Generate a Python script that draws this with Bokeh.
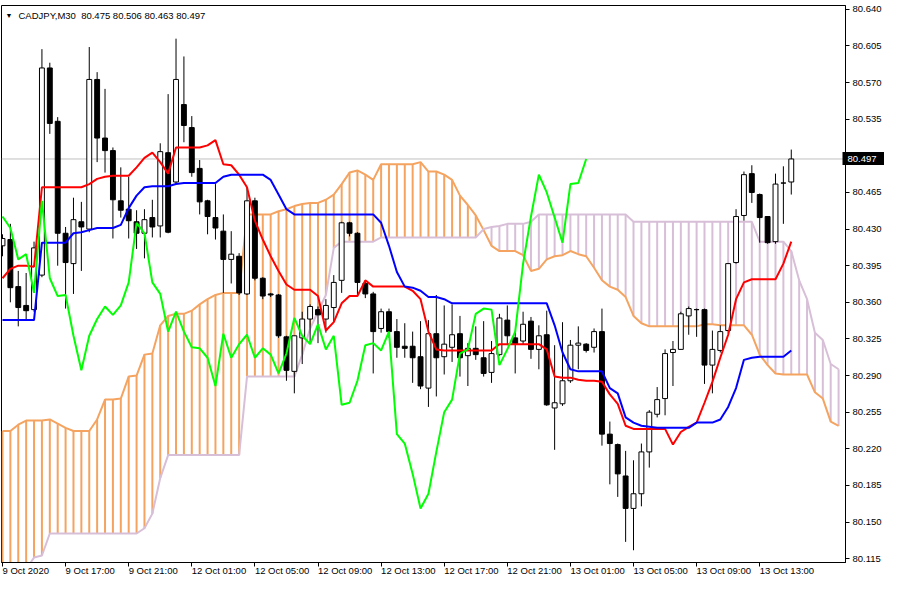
from bokeh.plotting import figure
from bokeh.models import (FixedTicker, Range1d, Span, Label, ColumnDataSource,
                          PrintfTickFormatter, LinearAxis)
from bokeh.embed import file_html
from bokeh.resources import INLINE

symbol = "CADJPY,M30"

opens = [80.414, 80.420, 80.375, 80.357, 80.353, 80.386, 80.584, 80.533, 80.426, 80.397,
         80.437, 80.430, 80.573, 80.517, 80.505, 80.457, 80.449, 80.437, 80.426, 80.441,
         80.433, 80.503, 80.475, 80.549, 80.527, 80.488, 80.457, 80.441, 80.428, 80.401,
         80.404, 80.368, 80.457, 80.383, 80.368, 80.367, 80.327, 80.294, 80.326, 80.344,
         80.353, 80.344, 80.355, 80.381, 80.436, 80.426, 80.378, 80.368, 80.335, 80.351,
         80.332, 80.318, 80.318, 80.308, 80.278, 80.330, 80.308, 80.317, 80.330, 80.309,
         80.316, 80.307, 80.293, 80.310, 80.343, 80.326, 80.323, 80.342, 80.315, 80.329,
         80.259, 80.263, 80.285, 80.319, 80.320, 80.317, 80.332, 80.234, 80.224, 80.194,
         80.163, 80.177, 80.217, 80.253, 80.268, 80.312, 80.315, 80.347, 80.353, 80.353,
         80.300, 80.314, 80.333, 80.398, 80.443, 80.483, 80.463, 80.442, 80.418, 80.474,
         80.475]
highs = [80.425, 80.435, 80.390, 80.388, 80.418, 80.602, 80.589, 80.537, 80.432, 80.460,
         80.456, 80.604, 80.580, 80.564, 80.508, 80.489, 80.480, 80.448, 80.449, 80.458,
         80.512, 80.559, 80.612, 80.595, 80.538, 80.496, 80.458, 80.473, 80.444, 80.428,
         80.407, 80.470, 80.460, 80.384, 80.369, 80.368, 80.328, 80.328, 80.351, 80.358,
         80.356, 80.363, 80.386, 80.437, 80.437, 80.427, 80.381, 80.370, 80.354, 80.354,
         80.344, 80.340, 80.332, 80.342, 80.343, 80.367, 80.357, 80.358, 80.347, 80.321,
         80.337, 80.342, 80.323, 80.349, 80.357, 80.332, 80.351, 80.346, 80.338, 80.352,
         80.319, 80.341, 80.324, 80.337, 80.321, 80.335, 80.354, 80.246, 80.225, 80.218,
         80.209, 80.225, 80.257, 80.279, 80.315, 80.323, 80.351, 80.356, 80.354, 80.354,
         80.333, 80.338, 80.397, 80.449, 80.485, 80.491, 80.464, 80.442, 80.483, 80.490,
         80.506]
lows = [80.404, 80.360, 80.337, 80.344, 80.351, 80.384, 80.521, 80.395, 80.354, 80.368,
        80.390, 80.427, 80.494, 80.484, 80.421, 80.441, 80.421, 80.411, 80.402, 80.422,
        80.422, 80.426, 80.473, 80.513, 80.480, 80.444, 80.425, 80.420, 80.369, 80.378,
        80.367, 80.367, 80.381, 80.363, 80.365, 80.326, 80.285, 80.273, 80.301, 80.321,
        80.321, 80.331, 80.342, 80.369, 80.423, 80.366, 80.364, 80.292, 80.331, 80.326,
        80.307, 80.307, 80.283, 80.277, 80.260, 80.270, 80.291, 80.303, 80.289, 80.280,
        80.305, 80.289, 80.283, 80.309, 80.319, 80.292, 80.320, 80.306, 80.296, 80.261,
        80.219, 80.261, 80.283, 80.296, 80.312, 80.312, 80.223, 80.186, 80.174, 80.131,
        80.123, 80.165, 80.202, 80.250, 80.252, 80.280, 80.315, 80.329, 80.327, 80.282,
        80.273, 80.312, 80.331, 80.397, 80.438, 80.455, 80.417, 80.416, 80.416, 80.435,
        80.463]
closes = [80.421, 80.374, 80.355, 80.352, 80.412, 80.584, 80.531, 80.426, 80.398, 80.439,
          80.432, 80.573, 80.517, 80.505, 80.458, 80.448, 80.438, 80.426, 80.439, 80.432,
          80.504, 80.427, 80.573, 80.529, 80.484, 80.456, 80.442, 80.431, 80.401, 80.406,
          80.369, 80.457, 80.383, 80.366, 80.367, 80.328, 80.295, 80.328, 80.344, 80.356,
          80.348, 80.357, 80.379, 80.436, 80.426, 80.379, 80.368, 80.332, 80.351, 80.332,
          80.317, 80.316, 80.307, 80.280, 80.330, 80.307, 80.320, 80.329, 80.307, 80.316,
          80.310, 80.292, 80.311, 80.345, 80.328, 80.320, 80.339, 80.315, 80.328, 80.262,
          80.264, 80.285, 80.319, 80.321, 80.314, 80.332, 80.234, 80.225, 80.196, 80.163,
          80.177, 80.217, 80.255, 80.267, 80.311, 80.315, 80.349, 80.354, 80.353, 80.300,
          80.315, 80.332, 80.397, 80.442, 80.482, 80.465, 80.441, 80.417, 80.473, 80.474,
          80.497]

tenkan = [80.383, 80.392, 80.395, 80.395, 80.394, 80.470, 80.470, 80.470, 80.470, 80.470,
          80.470, 80.473, 80.478, 80.480, 80.481, 80.481, 80.481, 80.489, 80.498, 80.503,
          80.494, 80.483, 80.508, 80.508, 80.508, 80.508, 80.510, 80.515, 80.492, 80.491,
          80.482, 80.470, 80.438, 80.420, 80.404, 80.390, 80.377, 80.372, 80.372, 80.372,
          80.366, 80.333, 80.341, 80.359, 80.366, 80.366, 80.381, 80.375, 80.375, 80.375,
          80.375, 80.375, 80.371, 80.363, 80.332, 80.315, 80.314, 80.314, 80.314, 80.314,
          80.314, 80.314, 80.314, 80.320, 80.320, 80.320, 80.320, 80.320, 80.320, 80.315,
          80.289, 80.288, 80.288, 80.286, 80.285, 80.285, 80.284, 80.272, 80.263, 80.242,
          80.239, 80.239, 80.239, 80.239, 80.239, 80.224, 80.236, 80.241, 80.245, 80.264,
          80.284, 80.307, 80.329, 80.363, 80.379, 80.382, 80.382, 80.382, 80.382, 80.397,
          80.418]
kijun = [80.343, 80.343, 80.343, 80.343, 80.343, 80.417, 80.417, 80.417, 80.417, 80.426,
         80.427, 80.429, 80.431, 80.431, 80.431, 80.434, 80.450, 80.462, 80.470, 80.471,
         80.471, 80.471, 80.473, 80.474, 80.474, 80.474, 80.474, 80.474, 80.480, 80.482,
         80.482, 80.482, 80.482, 80.482, 80.477, 80.463, 80.449, 80.444, 80.444, 80.444,
         80.444, 80.444, 80.444, 80.444, 80.444, 80.444, 80.444, 80.444, 80.436, 80.414,
         80.389, 80.375, 80.374, 80.371, 80.365, 80.365, 80.363, 80.359, 80.359, 80.359,
         80.359, 80.359, 80.359, 80.359, 80.359, 80.359, 80.359, 80.359, 80.359, 80.359,
         80.338, 80.312, 80.296, 80.294, 80.294, 80.294, 80.294, 80.278, 80.273, 80.250,
         80.245, 80.242, 80.241, 80.240, 80.240, 80.240, 80.240, 80.240, 80.245, 80.245,
         80.245, 80.248, 80.260, 80.278, 80.305, 80.307, 80.308, 80.308, 80.308, 80.308,
         80.314]
span_a = [80.237, 80.237, 80.243, 80.247, 80.247, 80.247, 80.248, 80.244, 80.240, 80.237,
          80.237, 80.237, 80.248, 80.267, 80.267, 80.268, 80.289, 80.290, 80.310, 80.311,
          80.338, 80.347, 80.349, 80.349, 80.352, 80.358, 80.363, 80.367, 80.369, 80.369,
          80.369, 80.444, 80.444, 80.444, 80.444, 80.447, 80.449, 80.452, 80.454, 80.455,
          80.455, 80.458, 80.463, 80.473, 80.484, 80.486, 80.482, 80.477, 80.492, 80.492,
          80.492, 80.492, 80.492, 80.494, 80.485, 80.485, 80.482, 80.477, 80.462, 80.453,
          80.443, 80.429, 80.414, 80.409, 80.409, 80.409, 80.405, 80.390, 80.392, 80.401,
          80.404, 80.405, 80.409, 80.406, 80.404, 80.393, 80.381, 80.375, 80.372, 80.365,
          80.347, 80.340, 80.337, 80.337, 80.337, 80.337, 80.337, 80.337, 80.337, 80.339,
          80.339, 80.338, 80.338, 80.338, 80.338, 80.329, 80.310, 80.300, 80.292, 80.291,
          80.291, 80.291, 80.291, 80.274, 80.268, 80.246, 80.242]
span_b = [80.099, 80.100, 80.102, 80.105, 80.116, 80.118, 80.139, 80.139, 80.139, 80.139,
          80.139, 80.139, 80.139, 80.139, 80.139, 80.139, 80.139, 80.139, 80.144, 80.158,
          80.192, 80.214, 80.214, 80.214, 80.214, 80.214, 80.214, 80.214, 80.214, 80.214,
          80.214, 80.289, 80.289, 80.289, 80.289, 80.289, 80.289, 80.289, 80.310, 80.335,
          80.351, 80.367, 80.412, 80.418, 80.418, 80.418, 80.418, 80.418, 80.422, 80.422,
          80.422, 80.422, 80.422, 80.422, 80.422, 80.422, 80.422, 80.422, 80.422, 80.422,
          80.422, 80.430, 80.432, 80.433, 80.435, 80.435, 80.435, 80.437, 80.444, 80.444,
          80.444, 80.444, 80.444, 80.444, 80.444, 80.444, 80.444, 80.444, 80.444, 80.444,
          80.437, 80.437, 80.437, 80.437, 80.437, 80.437, 80.437, 80.437, 80.437, 80.437,
          80.437, 80.437, 80.437, 80.437, 80.437, 80.437, 80.418, 80.418, 80.418, 80.418,
          80.409, 80.381, 80.363, 80.331, 80.324, 80.301, 80.296]

chikou_shift = 26
date_ticks = [0, 8, 16, 24, 32, 40, 48, 56, 64, 72, 80, 88, 96]
date_labels = ["9 Oct 2020", "9 Oct 17:00", "9 Oct 21:00", "12 Oct 01:00", "12 Oct 05:00",
               "12 Oct 09:00", "12 Oct 13:00", "12 Oct 17:00", "12 Oct 21:00", "13 Oct 01:00",
               "13 Oct 05:00", "13 Oct 09:00", "13 Oct 13:00"]
price_ticks = [80.115, 80.150, 80.185, 80.220, 80.255, 80.290, 80.325, 80.360,
               80.395, 80.430, 80.465, 80.500, 80.535, 80.570, 80.605, 80.640]

FONT = "Liberation Sans"
FS = "9.5px"
X0, X1 = -0.125, 106.875
Y0, Y1 = 80.1113, 80.6437

p = figure(width=884, height=584, x_range=Range1d(X0, X1), y_range=Range1d(Y0, Y1),
           output_backend="svg", toolbar_location=None, y_axis_location="right",
           min_border_left=1, min_border_top=5, min_border_right=0, min_border_bottom=10)
p.grid.visible = False
p.background_fill_color = "white"
p.border_fill_color = "white"
p.outline_line_color = "black"
p.outline_line_width = 1

# time axis: labels start at their tick (tiny negative angle -> left anchored)
p.xaxis.ticker = FixedTicker(ticks=date_ticks)
p.xaxis.major_label_overrides = {t: lab for t, lab in zip(date_ticks, date_labels)}
p.xaxis.major_label_orientation = -1e-6
p.xaxis.major_tick_in = 0
p.xaxis.major_tick_out = 4
p.xaxis.minor_tick_in = 0
p.xaxis.minor_tick_out = 0
p.xaxis.major_label_standoff = 4
p.xaxis.axis_line_color = "black"
p.xaxis.major_tick_line_color = "black"
p.xaxis.major_label_text_font = FONT
p.xaxis.major_label_text_font_size = FS
p.xaxis.major_label_text_color = "black"

# price axis
p.yaxis.ticker = FixedTicker(ticks=price_ticks)
p.yaxis.formatter = PrintfTickFormatter(format="%.3f")
p.yaxis.major_tick_in = 0
p.yaxis.major_tick_out = 4
p.yaxis.minor_tick_in = 0
p.yaxis.minor_tick_out = 0
p.yaxis.major_label_standoff = 3
p.yaxis.axis_line_color = "black"
p.yaxis.major_label_text_font = FONT
p.yaxis.major_label_text_font_size = FS
p.yaxis.major_label_text_color = "black"

# bid price tag: an outer right axis with one tick drawn as a black box back over the price scale
tag = LinearAxis(ticker=FixedTicker(ticks=[closes[-1]]), formatter=PrintfTickFormatter(format="%.3f"))
tag.axis_line_color = None
tag.minor_tick_in = 0
tag.minor_tick_out = 0
tag.major_tick_out = 0
tag.major_tick_in = 42
tag.major_tick_line_width = 13
tag.major_tick_line_color = "black"
tag.major_label_standoff = -37
tag.major_label_text_font = FONT
tag.major_label_text_font_size = FS
tag.major_label_text_color = "white"
p.add_layout(tag, "right")

# bid line
p.add_layout(Span(location=closes[-1], dimension="width", line_color="#C0C0C0",
                  line_width=1, level="underlay"))

# cloud hatching
n_cloud = len(span_a)
cx = list(range(n_cloud))
hatch_col = ["#F4A460" if a >= b else "#D8BFD8" for a, b in zip(span_a, span_b)]
p.segment(x0=cx, y0=span_a, x1=cx, y1=span_b, line_color=hatch_col, line_width=2)
p.line(cx, span_a, line_color="#F4A460", line_width=2)
p.line(cx, span_b, line_color="#D8BFD8", line_width=2)

# candles
n = len(closes)
xs = list(range(n))
src = ColumnDataSource(dict(
    x=xs, high=highs, low=lows,
    top=[max(o, c) for o, c in zip(opens, closes)],
    bottom=[min(o, c) for o, c in zip(opens, closes)],
    fill=["white" if c >= o else "black" for o, c in zip(opens, closes)],
))
p.segment(x0="x", y0="high", x1="x", y1="low", source=src, line_color="black", line_width=1)
p.vbar(x="x", width=0.62, top="top", bottom="bottom", fill_color="fill",
       line_color="black", line_width=1, source=src)

# ichimoku lines
p.line(xs, tenkan, line_color="#FF0000", line_width=2)
p.line(xs, kijun, line_color="#0000FF", line_width=2)
p.line(list(range(n - chikou_shift)), closes[chikou_shift:], line_color="#00FF00", line_width=2)

# title
p.add_layout(Label(x=X0, y=Y1, x_offset=4, y_offset=-10, text="\u25BC", text_align="left",
                   text_baseline="middle", text_font=FONT, text_font_size="7px",
                   text_color="black"))
title = "%s\u00a0 %.3f %.3f %.3f %.3f" % (symbol, opens[-1], highs[-1], lows[-1], closes[-1])
p.add_layout(Label(x=X0, y=Y1, x_offset=17, y_offset=-10, text=title, text_align="left",
                   text_baseline="middle", text_font=FONT, text_font_size=FS,
                   text_color="black"))

open("out.html", "w").write(file_html(p, INLINE))
